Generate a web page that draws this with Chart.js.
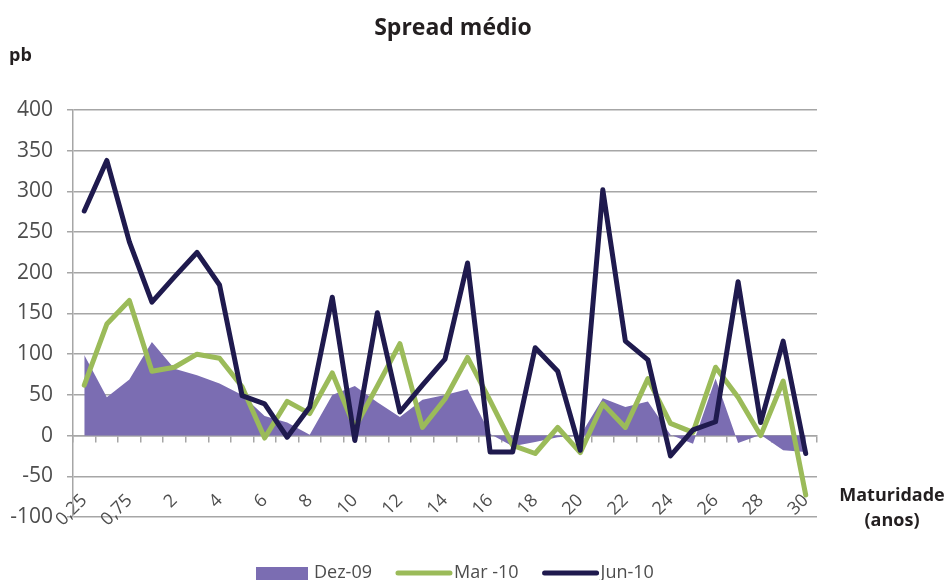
<!DOCTYPE html>
<html><head><meta charset="utf-8">
<script src="https://cdn.jsdelivr.net/npm/chart.js@4/dist/chart.umd.min.js"></script>
<style>html,body{margin:0;padding:0;background:#fff;}#wrap{width:949px;height:580px;}</style>
</head><body><div id="wrap"><canvas id="c" width="949" height="580"></canvas></div>
<script>
const categories = ['0,25','0,5','0,75','1','2','3','4','5','6','7','8','9','10','11','12','13','14','15','16','17','18','19','20','21','22','23','24','25','26','27','28','29','30'];
const dez09 = [99, 47, 69, 115, 82, 74, 64, 50, 24, 16, 1, 50, 61, 41, 23, 44, 50, 57, 2, -13, -8, -2, 0, 46, 35, 42, 1, -10, 70, -9, 1, -18, -20];
const mar10 = [62, 137, 166, 79, 84, 100, 95, 60, -3, 42, 27, 77, 10, 61, 113, 10, 45, 96, 43, -12, -22, 10, -21, 39, 10, 70, 15, 4, 84, 47, 0, 67, -73];
const jun10 = [276, 338, 238, 164, 195, 225, 185, 49, 39, -2, 35, 170, -6, 151, 29, 62, 94, 212, -20, -20, 108, 79, -18, 302, 116, 93, -25, 7, 17, 189, 16, 116, -22];
const seriesNames = ['Dez-09', 'Mar -10', 'Jun-10'];
const yMin = -100, yMax = 400, yStep = 50;

const FONT = "'Open Sans', 'Noto Sans', sans-serif";
const GRID = '#a6a6a6';
const TXT = '#4d4d4d';
const colDez = '#7b6db2', colMar = '#9bbb59', colJun = '#1f1a4e';

const textPlugin = {
  id: 'texts',
  afterDraw(chart) {
    const ctx = chart.ctx;
    ctx.save();
    ctx.fillStyle = '#231f20';
    ctx.textBaseline = 'middle';
    ctx.textAlign = 'center';
    ctx.font = "bold 23px " + FONT;
    ctx.fillText('Spread médio', 453, 28);
    ctx.textAlign = 'left';
    ctx.font = "bold 18px " + FONT;
    ctx.fillText('pb', 9, 56);
    ctx.textAlign = 'center';
    ctx.fillText('Maturidade', 892, 496);
    ctx.fillText('(anos)', 892, 521);
    // legend
    let x = 256; const y = 573;
    ctx.font = "18px " + FONT;
    ctx.textAlign = 'left';
    chart.data.datasets.forEach((ds, i) => {
      if (i === 0) {
        ctx.fillStyle = ds.backgroundColor;
        ctx.fillRect(x, y - 6, 52, 13);
      } else {
        ctx.strokeStyle = ds.borderColor;
        ctx.lineWidth = 5;
        ctx.lineCap = 'round';
        ctx.beginPath(); ctx.moveTo(x + 2, y); ctx.lineTo(x + 54, y); ctx.stroke();
      }
      x += 58;
      ctx.fillStyle = TXT;
      ctx.fillText(ds.label, x, y);
      x += ctx.measureText(ds.label).width + 24;
    });
    ctx.restore();
  }
};

new Chart(document.getElementById('c'), {
  type: 'line',
  data: {
    labels: categories,
    datasets: [
      { label: seriesNames[0], data: dez09, fill: 'origin', backgroundColor: colDez, borderWidth: 0, borderColor: colDez, pointRadius: 0, tension: 0, order: 2 },
      { label: seriesNames[1], data: mar10, fill: false, borderColor: colMar, backgroundColor: colMar, borderWidth: 5, pointRadius: 0, tension: 0, borderJoinStyle: 'round', borderCapStyle: 'round', order: 1 },
      { label: seriesNames[2], data: jun10, fill: false, borderColor: colJun, backgroundColor: colJun, borderWidth: 5, pointRadius: 0, tension: 0, borderJoinStyle: 'round', borderCapStyle: 'round', order: 0 }
    ]
  },
  options: {
    responsive: false,
    animation: false,
    devicePixelRatio: 1,
    layout: { padding: { top: 110, right: 132, left: 0, bottom: 63 } },
    plugins: { legend: { display: false }, title: { display: false }, tooltip: { enabled: false } },
    scales: {
      x: {
        type: 'category', offset: true, position: { y: -100 },
        grid: { display: false, drawTicks: false },
        border: { display: false },
        ticks: {
          autoSkip: false, minRotation: 45, maxRotation: 45, padding: -27,
          color: TXT, font: { family: FONT, size: 18 },
          callback: function(v, i) { return i % 2 === 0 ? categories[i] : ''; }
        }
      },
      x2: {
        type: 'category', offset: true, position: { y: 0 }, labels: categories,
        grid: { display: true, offset: true, drawOnChartArea: false, drawTicks: true, tickLength: 6, color: GRID, lineWidth: 1.5 },
        border: { display: true, color: GRID, width: 1.5 },
        ticks: { display: false }
      },
      y: {
        min: yMin, max: yMax,
        ticks: { stepSize: yStep, color: TXT, padding: 14, font: { family: FONT, size: 21 } },
        grid: { color: GRID, lineWidth: 1.5, tickLength: 6 },
        border: { display: true, color: GRID, width: 1.5 },
        afterFit: s => { s.width = 73; }
      }
    }
  },
  plugins: [textPlugin]
});
</script></body></html>
